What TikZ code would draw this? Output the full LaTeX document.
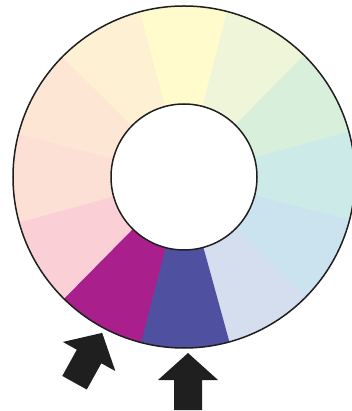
\documentclass[tikz,border=0pt]{standalone}
\usepackage{tikz}
\usetikzlibrary{positioning}
\definecolor{wYel}{HTML}{FFFBCC}
\definecolor{wYelGrn}{HTML}{EEF5D8}
\definecolor{wGrn}{HTML}{D8EFDC}
\definecolor{wCyan}{HTML}{CCEBE8}
\definecolor{wBlue}{HTML}{CBE2EF}
\definecolor{wLav}{HTML}{D5DEEF}
\definecolor{wViolet}{HTML}{5050A0}
\definecolor{wMag}{HTML}{A91F8C}
\definecolor{wPink}{HTML}{FAD0D6}
\definecolor{wPeachPink}{HTML}{FCE0D6}
\definecolor{wPeach}{HTML}{FDE7D4}
\definecolor{wCream}{HTML}{FEF0D3}

\begin{document}
\begin{tikzpicture}[
  x=1pt, y=1pt,
  ring/.style={draw=black!88, line width=1.5pt},
  pointer/.style={fill=black!88}
]
\useasboundingbox (-184,-234) rectangle (168,177);
\coordinate (c) at (0,0);
% twelve segments of the wheel
\foreach \a/\col in {75/wYel, 45/wYelGrn, 15/wGrn, -15/wCyan, -45/wBlue, -75/wLav,
    -105/wViolet, -135/wMag, -165/wPink, 165/wPeachPink, 135/wPeach, 105/wCream}
  \fill[\col] (\a:171) arc[start angle=\a, delta angle=30.4, radius=171]
    -- (\a+30.4:73) arc[start angle=\a+30.4, delta angle=-30.4, radius=73] -- cycle;
\draw[ring] (c) circle[radius=171];
\draw[ring, fill=white] (c) circle[radius=73];
% pointers
\foreach \r in {0,-29}
  \fill[pointer, rotate=\r] (4,-176) -- ++(30,-27) -- ++(-16,0) -- ++(0,-30)
    -- ++(-28,0) -- ++(0,30) -- ++(-16,0) -- cycle;
\end{tikzpicture}
\end{document}
